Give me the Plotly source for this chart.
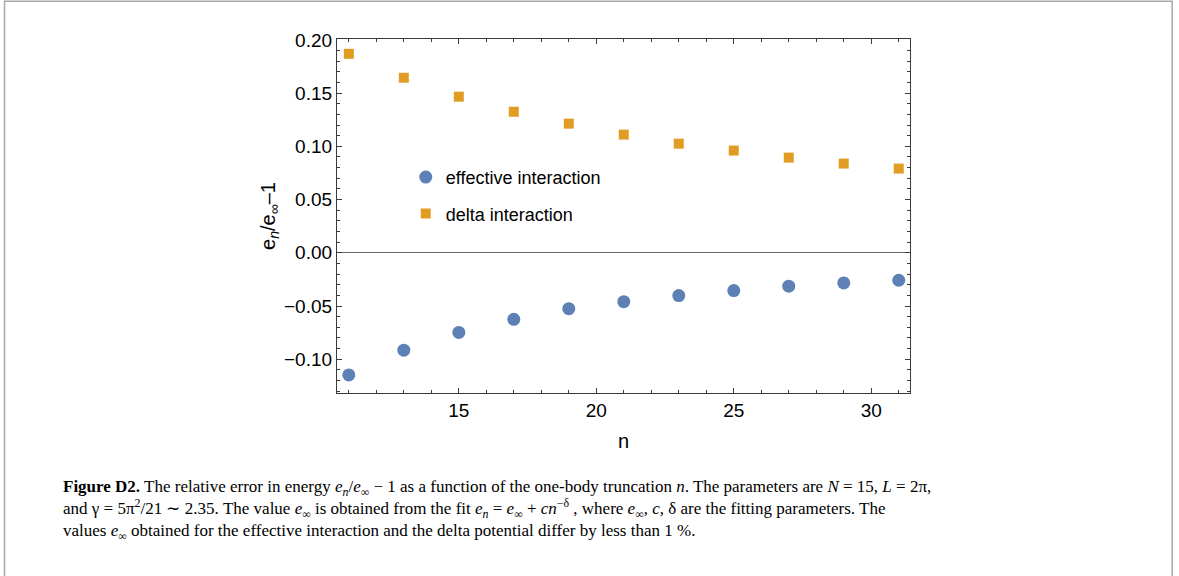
import plotly.graph_objects as go

# ---- data ----
n_values = [11, 13, 15, 17, 19, 21, 23, 25, 27, 29, 31]
effective_interaction = [-0.1147, -0.0915, -0.0748, -0.0625, -0.0525, -0.0459,
                         -0.0402, -0.0355, -0.0314, -0.0283, -0.0258]
delta_interaction = [0.1869, 0.1644, 0.1466, 0.1325, 0.1213, 0.1110,
                     0.1025, 0.0960, 0.0894, 0.0838, 0.0791]
series_names = ["effective interaction", "delta interaction"]
y_tick_values = [-0.10, -0.05, 0.00, 0.05, 0.10, 0.15, 0.20]
x_range = [10.57, 31.41]
y_range = [-0.1317, 0.2008]

W, H = 1179, 576
L, R, T, B = 337.3, 910.0, 39.3, 392.7

def px_x(px):
    return (px - L) / (R - L)

def px_y(py):
    return (B - py) / (B - T)

BLUE = "#5E81B5"
ORANGE = "#E19C24"
AX = "#3a3a3a"
SANS = "Liberation Sans, Arial, sans-serif"
SERIF = "Liberation Serif, Times New Roman, serif"

fig = go.Figure()
fig.add_trace(go.Scatter(
    x=n_values, y=effective_interaction, mode="markers", name=series_names[0],
    legendgroup="a",
    marker=dict(symbol="circle", size=13, color=BLUE, line=dict(width=0)),
))
fig.add_trace(go.Scatter(
    x=n_values, y=delta_interaction, mode="markers", name=series_names[1],
    legendgroup="b",
    marker=dict(symbol="square", size=10, color=ORANGE, line=dict(width=0)),
))

axis_common = dict(
    showline=True, linecolor=AX, linewidth=1.2, mirror="allticks",
    ticks="inside", ticklen=5, tickwidth=1, tickcolor=AX,
    showgrid=False, tickfont=dict(family=SANS, size=19, color="black"),
)

fig.update_xaxes(
    range=x_range, tick0=0, dtick=5, zeroline=False,
    minor=dict(ticks="inside", dtick=1, ticklen=3, tickcolor=AX, showgrid=False),
    title=dict(text="n", font=dict(family=SANS, size=20, color="black"), standoff=14),
    **axis_common,
)
fig.update_yaxes(
    range=y_range, tickvals=y_tick_values, tickformat=".2f",
    zeroline=True, zerolinecolor="#666666", zerolinewidth=1,
    minor=dict(ticks="inside", dtick=0.01, tick0=0, ticklen=3, tickcolor=AX, showgrid=False),
    title=dict(text="e<sub><i>n</i></sub>/e<sub>∞</sub>–1",
               font=dict(family=SANS, size=20, color="black"), standoff=3),
    **axis_common,
)

# figure frame
fig.add_shape(type="rect", xref="paper", yref="paper",
              x0=px_x(5), x1=px_x(1172), y0=px_y(600), y1=px_y(1.5),
              line=dict(color="#a8a8a8", width=1.5), fillcolor="rgba(0,0,0,0)",
              layer="below")

cap1 = ("<b>Figure D2.</b> The relative error in energy <i>e<sub>n</sub></i>/<i>e</i><sub>∞</sub> − 1 "
        "as a function of the one-body truncation <i>n</i>. The parameters are "
        "<i>N</i> = 15, <i>L</i> = 2π,")
cap2 = ("and γ = 5π<sup>2</sup>/21 ∼ 2.35. The value <i>e</i><sub>∞</sub> is obtained from the fit "
        "<i>e<sub>n</sub></i> = <i>e</i><sub>∞</sub> + <i>cn</i><sup>−δ</sup> , where "
        "<i>e</i><sub>∞</sub>, <i>c</i>, δ are the fitting parameters. The")
cap3 = ("values <i>e</i><sub>∞</sub> obtained for the effective interaction and the delta potential "
        "differ by less than 1 %.")
fig.add_annotation(text="<br>".join([cap1, cap2, cap3]), xref="paper", yref="paper",
                   x=px_x(61), y=px_y(510), xanchor="left", yanchor="middle", align="left",
                   showarrow=False, font=dict(family=SERIF, size=17, color="black"))

fig.update_layout(
    width=W, height=H,
    margin=dict(l=L, r=W - R, t=T, b=H - B, pad=0),
    paper_bgcolor="white", plot_bgcolor="white",
    showlegend=True,
    legend=dict(x=px_x(406), y=px_y(159), xanchor="left", yanchor="top",
                bgcolor="rgba(0,0,0,0)", font=dict(family=SANS, size=18, color="black"),
                tracegroupgap=10, traceorder="grouped"),
)

fig.write_html("out.html", config={"displayModeBar": False},
               post_script="document.body.style.margin='0px';document.body.style.padding='0px';")
